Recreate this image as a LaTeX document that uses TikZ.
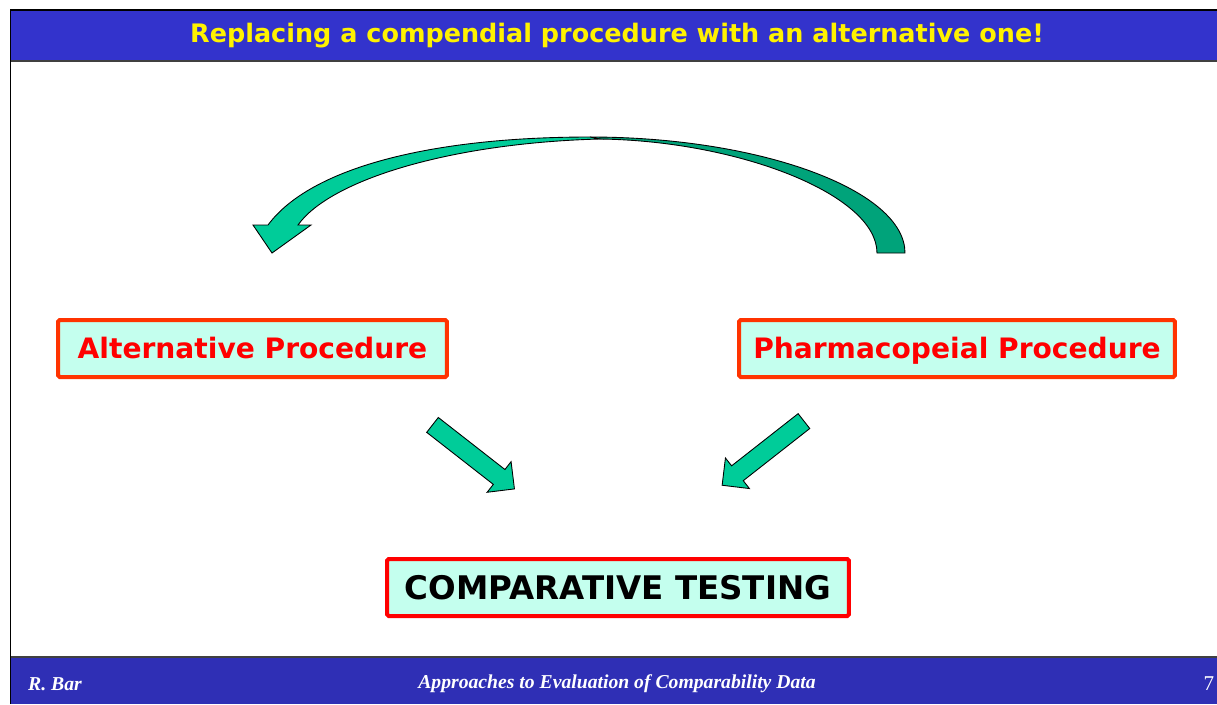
\documentclass[tikz,border=0pt]{standalone}
\usepackage{xcolor}
\usepackage{tikz}
\usepackage{fontspec}
\setmainfont{Liberation Serif}
\setsansfont{DejaVu Sans}
\usetikzlibrary{shapes.arrows}
\definecolor{BAR}{HTML}{3333CC}
\definecolor{FOOT}{HTML}{2F2FB5}
\definecolor{BOXFILL}{HTML}{C4FFEE}
\definecolor{BOXLINE}{HTML}{FF3300}
\definecolor{ARL}{HTML}{00CC99}
\definecolor{ARD}{HTML}{00A37A}
\tikzset{%
  procbox/.style={draw=BOXLINE, line width=0.08cm, fill=BOXFILL, minimum height=1.14cm, inner sep=0pt, text height=11.7pt, text depth=0pt, rounded corners=1pt, font=\fontsize{16}{19}\selectfont\sffamily\bfseries, text=red},%
  blockarrow/.style={single arrow, draw=black, fill=ARL, line width=0.5pt, inner xsep=0pt, inner ysep=0.18cm, single arrow head extend=0.2cm, minimum height=2.08cm, sloped, allow upside down},%
  footnote/.style={font=\fontsize{11.2}{13}\selectfont\bfseries\itshape, text=white},%
}

\begin{document}
\begin{tikzpicture}[x=0.02cm, y=-0.02cm]%
\useasboundingbox (0,0) rectangle (1217,704);%
\fill[white] (0,0) rectangle (1217,704);%
% slide frame and bars
\fill[BAR] (11,11) rectangle (1217,61);%
\fill[FOOT] (11,657) rectangle (1217,704);%
\draw[line width=0.04cm] (10.5,704) -- (10.5,10) -- (1217,10);%
\draw[line width=0.04cm, black!75] (11,61) -- (1217,61);%
\draw[line width=0.04cm, black!75] (11,657) -- (1217,657);%
\node[font=\fontsize{14.5}{17}\selectfont\sffamily\bfseries, text=yellow] (title) at (617,36) {Replacing a compendial procedure with an alternative one!};%
% boxes
\node[procbox, minimum width=7.78cm] (alt) at (252.5,348.5) {Alternative Procedure};%
\node[procbox, minimum width=8.72cm] (pharm) at (957,348.5) {Pharmacopeial Procedure};%
\node[procbox, draw=red, text=black, minimum width=9.24cm, text height=13.5pt, font=\fontsize{18.5}{22}\selectfont\sffamily\bfseries] (comp) at (618,587.5) {COMPARATIVE TESTING};%
% curved arrow
\filldraw[fill=ARD, draw=black, line width=0.5pt] (590,137) .. controls (760,137) and (905,190) .. (905,253) -- (877,253) .. controls (877,195) and (740,141) .. (600,139) -- cycle;%
\filldraw[fill=ARL, draw=black, line width=0.5pt] (590,137) .. controls (430,137) and (310,168) .. (268,225) -- (253,225) -- (272,253) -- (311,225) -- (298,225) .. controls (330,180) and (450,143) .. (600,139) -- cycle;%
% small arrows
\coordinate (altTail) at (427.5,421);%
\coordinate (altTip) at (512,487);%
\coordinate (pharmTail) at (808.5,417.5);%
\coordinate (pharmTip) at (725,483);%
\path (altTail) -- node[blockarrow] (altArrow) {} (altTip);%
\path (pharmTail) -- node[blockarrow] (pharmArrow) {} (pharmTip);%
% footer
\node[footnote, anchor=west] (author) at (22,684) {R. Bar};%
\node[footnote] (subject) at (617,684) {Approaches to Evaluation of Comparability Data};%
\node[font=\fontsize{12}{14}\selectfont, text=white] (page) at (1209,684) {7};%
\end{tikzpicture}
\end{document}
